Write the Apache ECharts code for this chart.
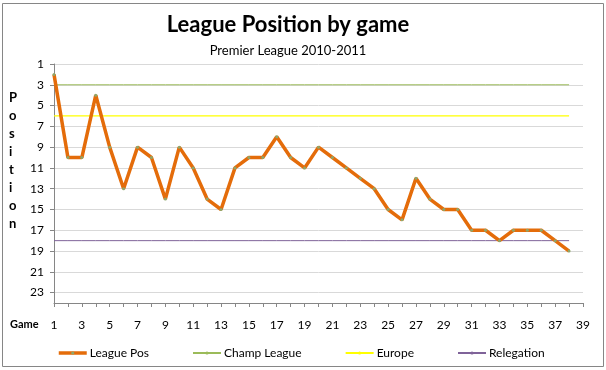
<!DOCTYPE html>
<html>
<head>
<meta charset="utf-8">
<script src="https://cdn.jsdelivr.net/npm/echarts@6/dist/echarts.min.js"></script>
<style>
html,body{margin:0;padding:0;background:#fff;}
#c{width:606px;height:370px;}
</style>
</head>
<body>
<div id="c"></div>
<script>
// Categories (games) and tick labels
var games = ['1','2','3','4','5','6','7','8','9','10','11','12','13','14','15','16','17','18','19','20','21','22','23','24','25','26','27','28','29','30','31','32','33','34','35','36','37','38','39'];
// Series values
var leaguePos = [2,10,10,4,9,13,9,10,14,9,11,14,15,11,10,10,8,10,11,9,10,11,12,13,15,16,12,14,15,15,17,17,18,17,17,17,18,19];
var champLeague = [3,3,3,3,3,3,3,3,3,3,3,3,3,3,3,3,3,3,3,3,3,3,3,3,3,3,3,3,3,3,3,3,3,3,3,3,3,3];
var europe = [6,6,6,6,6,6,6,6,6,6,6,6,6,6,6,6,6,6,6,6,6,6,6,6,6,6,6,6,6,6,6,6,6,6,6,6,6,6];
var relegation = [18,18,18,18,18,18,18,18,18,18,18,18,18,18,18,18,18,18,18,18,18,18,18,18,18,18,18,18,18,18,18,18,18,18,18,18,18,18];
var seriesNames = ['League Pos','Champ League','Europe','Relegation'];
var titleText = 'League Position by game';
var subtitleText = 'Premier League 2010-2011';
var yTitle = 'Position';
var xTitle = 'Game';

var FONT = 'Lato';
var chart = echarts.init(document.getElementById('c'), null, {renderer:'canvas'});
var option = {
  backgroundColor: '#ffffff',
  animation: false,
  grid: {left: 54, right: 23, top: 64, bottom: 67, containLabel: false},
  xAxis: {
    type: 'category',
    data: games,
    boundaryGap: false,
    axisLine: {lineStyle: {color: '#868686', width: 1}},
    axisTick: {show: true, interval: 0, length: 4, lineStyle: {color: '#868686'}},
    axisLabel: {interval: 1, margin: 16, fontFamily: FONT, fontSize: 12, color: '#000'},
    splitLine: {show: false}
  },
  yAxis: {
    type: 'value',
    inverse: true,
    min: 1, max: 24, interval: 2,
    axisLine: {show: true, lineStyle: {color: '#868686', width: 1}},
    axisTick: {show: true, length: 4, lineStyle: {color: '#868686'}},
    axisLabel: {margin: 10, fontFamily: FONT, fontSize: 12, color: '#000', showMaxLabel: false},
    splitLine: {show: true, lineStyle: {color: '#d9d9d9', width: 1}}
  },
  legend: {
    left: 57, top: 347, padding: 0, itemGap: 43, itemWidth: 28, itemHeight: 4,
    data: [
      {name: seriesNames[0], lineStyle: {width: 3.5}},
      seriesNames[1], seriesNames[2], seriesNames[3]
    ],
    textStyle: {fontFamily: FONT, fontSize: 12, color: '#000', padding: [0,0,0,-2]}
  },
  series: [
    {name: seriesNames[0], type: 'line', data: leaguePos, z: 5,
     symbol: 'circle', symbolSize: 3, showSymbol: true,
     lineStyle: {color: '#E46C0A', width: 3.5},
     itemStyle: {color: '#8FA66A', borderWidth: 0}},
    {name: seriesNames[1], type: 'line', data: champLeague, symbol: 'none',
     lineStyle: {color: '#9BBB59', width: 1}, itemStyle: {color: '#9BBB59'}},
    {name: seriesNames[2], type: 'line', data: europe, symbol: 'none',
     lineStyle: {color: '#FFFF00', width: 1.2}, itemStyle: {color: '#FFFF00'}},
    {name: seriesNames[3], type: 'line', data: relegation, symbol: 'none',
     lineStyle: {color: '#7F6399', width: 1}, itemStyle: {color: '#7F6399'}}
  ],
  graphic: [
    {type: 'rect', shape: {x: 2.5, y: 3.5, width: 601, height: 363},
     style: {fill: 'none', stroke: '#868686', lineWidth: 1}, silent: true},
    {type: 'text', x: 288, y: 25,
     style: {text: titleText, fontFamily: FONT, fontWeight: 'bold', fontSize: 22, fill: '#000',
             align: 'center', verticalAlign: 'middle'}},
    {type: 'text', x: 288, y: 51,
     style: {text: subtitleText, fontFamily: FONT, fontSize: 13, fill: '#000',
             align: 'center', verticalAlign: 'middle'}},
    {type: 'text', left: 9, top: 89,
     style: {text: yTitle.split('').join('\n'), fontFamily: FONT, fontWeight: 'bold', fontSize: 13,
             lineHeight: 18, fill: '#000', align: 'center'}},
    {type: 'text', left: 10, top: 319,
     style: {text: xTitle, fontFamily: FONT, fontWeight: 'bold', fontSize: 11, fill: '#000'}}
  ]
};
chart.setOption(option);
</script>
</body>
</html>
